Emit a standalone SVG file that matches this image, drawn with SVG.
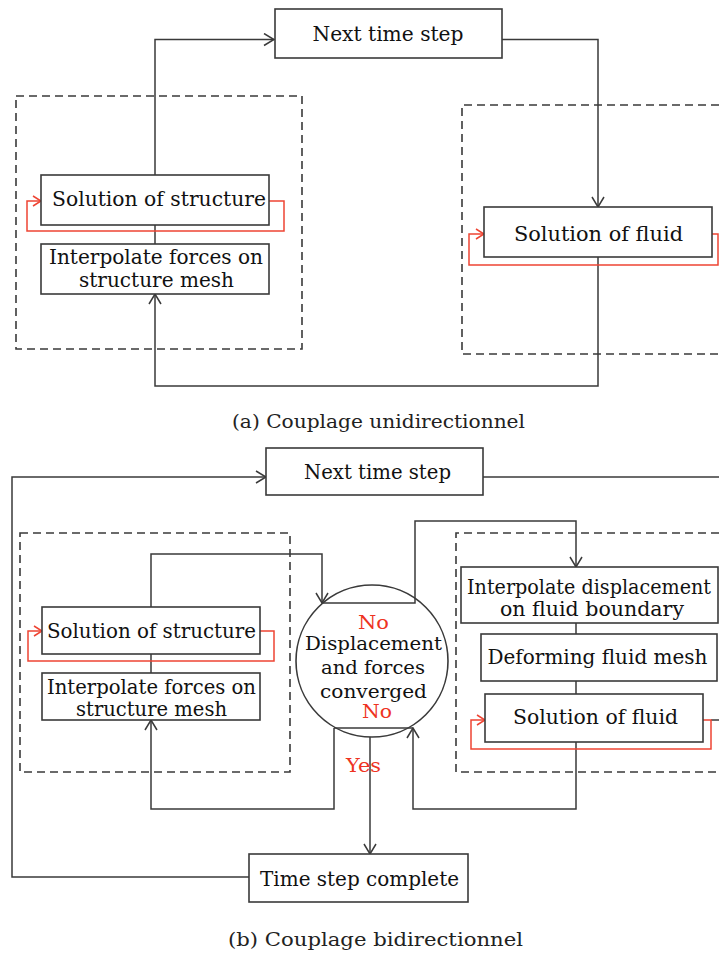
<svg xmlns="http://www.w3.org/2000/svg" width="719" height="954" viewBox="0 0 719 954">
<style>
  .box { fill: #ffffff; stroke: #3a3a3a; stroke-width: 1.6; }
  .dash { fill: none; stroke: #3a3a3a; stroke-width: 1.6; stroke-dasharray: 8 5; }
  .ln { fill: none; stroke: #3a3a3a; stroke-width: 1.5; }
  .red { fill: none; stroke: #ee4433; stroke-width: 1.5; }
  .t { font-family: "DejaVu Serif", "Liberation Serif", serif; font-size: 21px; fill: #111; text-anchor: middle; }
  .ts { font-size: 19.5px; }
  .tc { font-family: "DejaVu Serif", "Liberation Serif", serif; font-size: 19px; fill: #111; text-anchor: middle; }
  .tr { font-family: "DejaVu Serif", "Liberation Serif", serif; font-size: 19px; fill: #ee3322; text-anchor: middle; }
  .cap { font-family: "DejaVu Serif", "Liberation Serif", serif; font-size: 19px; fill: #222; text-anchor: middle; }
</style>
<defs>
  <marker id="ah" viewBox="0 0 12 14" refX="11" refY="7" markerWidth="12" markerHeight="14" orient="auto" markerUnits="userSpaceOnUse">
    <path d="M1,1 L11,7 L1,13" fill="none" stroke="#3a3a3a" stroke-width="1.5"/>
  </marker>
  <marker id="ahr" viewBox="0 0 10 12" refX="9" refY="6" markerWidth="10" markerHeight="12" orient="auto" markerUnits="userSpaceOnUse">
    <path d="M1,1 L9,6 L1,11" fill="none" stroke="#ee4433" stroke-width="1.5"/>
  </marker>
</defs>
<rect width="719" height="954" fill="#ffffff"/>

<!-- Part (a) -->
<g id="a-struct-domain"><rect class="dash" x="16" y="96" width="286" height="253"/></g>
<g id="a-fluid-domain"><path class="dash" d="M719,105 H462 V354 H719"/></g>

<g id="a-connectors">
  <path class="ln" d="M155,175 V39.5 H274" marker-end="url(#ah)"/>
  <path class="ln" d="M502,39.5 H598 V207" marker-end="url(#ah)"/>
  <path class="ln" d="M155,225 V244"/>
  <path class="ln" d="M598,257 V386 H155 V294" marker-end="url(#ah)"/>
  <path class="red" d="M269,201 H284 V231 H27 V201 H41" marker-end="url(#ahr)"/>
  <path class="red" d="M712,234 H718 V265 H469 V234 H484" marker-end="url(#ahr)"/>
</g>

<g id="a-next-time-step">
  <rect class="box" x="275" y="9" width="227" height="49"/>
  <text class="t" x="388" y="41" textLength="151" lengthAdjust="spacingAndGlyphs">Next time step</text>
</g>
<g id="a-solution-structure">
  <rect class="box" x="41" y="175" width="228" height="50"/>
  <text class="t" x="159" y="206" textLength="214" lengthAdjust="spacingAndGlyphs">Solution of structure</text>
</g>
<g id="a-interpolate-forces">
  <rect class="box" x="41" y="244" width="228" height="50"/>
  <text class="t" x="156" y="264" textLength="214" lengthAdjust="spacingAndGlyphs">Interpolate forces on</text>
  <text class="t" x="156.5" y="287" textLength="155" lengthAdjust="spacingAndGlyphs">structure mesh</text>
</g>
<g id="a-solution-fluid">
  <rect class="box" x="484" y="207" width="228" height="50"/>
  <text class="t" x="598.5" y="241" textLength="169" lengthAdjust="spacingAndGlyphs">Solution of fluid</text>
</g>
<text class="cap" x="378.5" y="428" textLength="293" lengthAdjust="spacingAndGlyphs">(a) Couplage unidirectionnel</text>

<!-- Part (b) -->
<g id="b-struct-domain"><rect class="dash" x="20" y="533" width="270" height="239"/></g>
<g id="b-fluid-domain"><path class="dash" d="M719,533 H456 V772 H719"/></g>

<g id="b-connectors">
  <path class="ln" d="M249,877 H12 V477 H266" marker-end="url(#ah)"/>
  <path class="ln" d="M483,477 H719"/>
  <path class="ln" d="M151,607 V554 H322 V603" marker-end="url(#ah)"/>
  <path class="ln" d="M322,603 H415 V521 H576 V567" marker-end="url(#ah)"/>
  <path class="ln" d="M151,654 V673"/>
  <path class="ln" d="M576,623 V634"/>
  <path class="ln" d="M576,681 V694"/>
  <path class="ln" d="M576,742 V809 H413 V728" marker-end="url(#ah)"/>
  <path class="ln" d="M334,728 H413"/>
  <path class="ln" d="M334,728 V809 H151 V720" marker-end="url(#ah)"/>
  <path class="ln" d="M370,737 V854" marker-end="url(#ah)"/>
  <path class="ln" d="M711,720 H719"/>
  <path class="red" d="M260,631 H274 V661 H28 V631 H42" marker-end="url(#ahr)"/>
  <path class="red" d="M703,720 H711 V749 H471 V720 H485" marker-end="url(#ahr)"/>
  <text class="tr" x="363.5" y="772" textLength="35" lengthAdjust="spacingAndGlyphs">Yes</text>
</g>

<g id="b-next-time-step">
  <rect class="box" x="266" y="448" width="217" height="47"/>
  <text class="t" x="377.5" y="479" textLength="147" lengthAdjust="spacingAndGlyphs">Next time step</text>
</g>
<g id="b-solution-structure">
  <rect class="box" x="42" y="607" width="218" height="47"/>
  <text class="t" x="151.5" y="638" textLength="209" lengthAdjust="spacingAndGlyphs">Solution of structure</text>
</g>
<g id="b-interpolate-forces">
  <rect class="box" x="42" y="673" width="218" height="47"/>
  <text class="t" x="151.5" y="694" textLength="209" lengthAdjust="spacingAndGlyphs">Interpolate forces on</text>
  <text class="t" x="151.5" y="716" textLength="151" lengthAdjust="spacingAndGlyphs">structure mesh</text>
</g>
<g id="b-convergence">
  <circle cx="372" cy="661" r="76" fill="none" stroke="#3a3a3a" stroke-width="1.6"/>
  <text class="tr" x="373.5" y="629" textLength="31" lengthAdjust="spacingAndGlyphs">No</text>
  <text class="tc" x="373.5" y="650" textLength="137" lengthAdjust="spacingAndGlyphs">Displacement</text>
  <text class="tc" x="373" y="674" textLength="104" lengthAdjust="spacingAndGlyphs">and forces</text>
  <text class="tc" x="373.5" y="698" textLength="107" lengthAdjust="spacingAndGlyphs">converged</text>
  <text class="tr" x="377" y="718" textLength="30" lengthAdjust="spacingAndGlyphs">No</text>
</g>
<g id="b-interpolate-displacement">
  <rect class="box" x="461" y="567" width="257" height="56"/>
  <text class="t ts" x="589" y="594" textLength="244" lengthAdjust="spacingAndGlyphs">Interpolate displacement</text>
  <text class="t" x="592" y="616" textLength="184" lengthAdjust="spacingAndGlyphs">on fluid boundary</text>
</g>
<g id="b-deforming-mesh">
  <rect class="box" x="481" y="634" width="236" height="47"/>
  <text class="t" x="597.5" y="664" textLength="220" lengthAdjust="spacingAndGlyphs">Deforming fluid mesh</text>
</g>
<g id="b-solution-fluid">
  <rect class="box" x="485" y="694" width="218" height="48"/>
  <text class="t" x="595.5" y="724" textLength="165" lengthAdjust="spacingAndGlyphs">Solution of fluid</text>
</g>
<g id="b-time-step-complete">
  <rect class="box" x="249" y="854" width="219" height="48"/>
  <text class="t" x="359.5" y="886" textLength="199" lengthAdjust="spacingAndGlyphs">Time step complete</text>
</g>
<text class="cap" x="375.5" y="946" textLength="295" lengthAdjust="spacingAndGlyphs">(b) Couplage bidirectionnel</text>
</svg>
